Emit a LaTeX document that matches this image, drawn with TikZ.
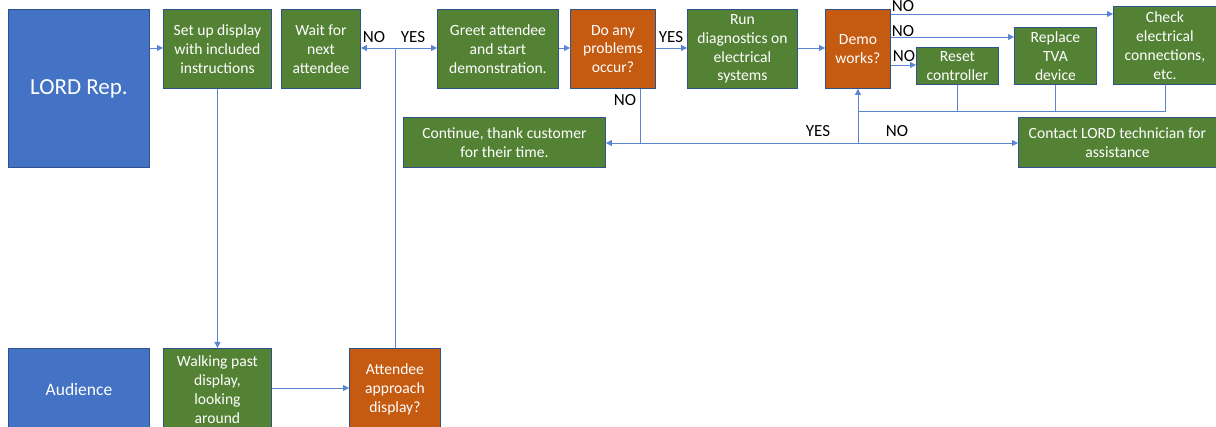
\documentclass[tikz,border=0pt]{standalone}
\usepackage{fontspec}
\setmainfont{Carlito}
\usetikzlibrary{arrows.meta}
\definecolor{bluefill}{HTML}{4472C4}
\definecolor{greenfill}{HTML}{548235}
\definecolor{orangefill}{HTML}{C55A11}
\definecolor{edgeblue}{HTML}{2F528F}
\definecolor{linkblue}{HTML}{5B85D0}
\tikzset{
  basebox/.style={draw=edgeblue, line width=0.9pt, anchor=north west, inner sep=2pt, align=center, text=white, font=\fontsize{15.6}{18.8}\selectfont},
  lanebox/.style={basebox, fill=bluefill},
  greenbox/.style={basebox, fill=greenfill},
  decbox/.style={basebox, fill=orangefill},
  link/.style={draw=linkblue, line width=0.8pt},
  arr/.style={link, -{Triangle[length=6pt,width=6pt]}},
  lbl/.style={font=\fontsize{17}{19}\selectfont, text=black, inner sep=0pt}
}
\begin{document}
\begin{tikzpicture}[x=1pt,y=-1pt]
\useasboundingbox (0,0) rectangle (1216,427);
\clip (0,0) rectangle (1216,427);
% lanes
\node[lanebox, minimum width=141pt, minimum height=158pt, font=\fontsize{23}{26}\selectfont] (lord) at (8,9) {LORD Rep.};
\node[lanebox, minimum width=141pt, minimum height=82pt, font=\fontsize{17.5}{20}\selectfont] (aud) at (8,348) {Audience};
% top row
\node[greenbox, minimum width=108pt, minimum height=79pt] (setup) at (163,9) {Set up display\\with included\\instructions};
\node[greenbox, minimum width=79pt, minimum height=79pt] (wait) at (281,9) {Wait for\\next\\attendee};
\node[greenbox, minimum width=121pt, minimum height=79pt] (greet) at (437,9) {Greet attendee\\and start\\demonstration.};
\node[decbox, minimum width=85pt, minimum height=79pt] (prob) at (570,9) {Do any\\problems\\occur?};
\node[greenbox, minimum width=110pt, minimum height=79pt] (diag) at (687,9) {Run\\diagnostics on\\electrical\\systems};
\node[decbox, minimum width=65pt, minimum height=79pt] (demo) at (825,9) {Demo\\works?};
\node[greenbox, minimum width=82pt, minimum height=37pt] (reset) at (916,47) {Reset\\controller};
\node[greenbox, minimum width=82pt, minimum height=57pt] (tva) at (1014,27) {Replace\\TVA\\device};
\node[greenbox, minimum width=103pt, minimum height=78pt] (check) at (1113,6) {Check\\electrical\\connections,\\etc.};
\node[greenbox, minimum width=202pt, minimum height=50pt] (cont) at (403,117) {Continue, thank customer\\for their time.};
\node[greenbox, minimum width=198pt, minimum height=50pt] (tech) at (1018,117) {Contact LORD technician for\\assistance};
% bottom row
\node[greenbox, minimum width=108pt, minimum height=82pt] (walk) at (163,348) {Walking past\\display,\\looking\\around};
\node[decbox, minimum width=91pt, minimum height=82pt] (appr) at (349,348) {Attendee\\approach\\display?};
% coordinates
\coordinate (j1) at (395,48);
\coordinate (j2) at (640,143);
\coordinate (j3) at (858,143);
\coordinate (j4) at (858,111);
% connectors
\draw[arr] (lord.east |- 0,48) -- (setup.west |- 0,48);
\draw[arr] (setup.south) -- (walk.north);
\draw[arr] (walk.east |- 0,388) -- (appr.west |- 0,388);
\draw[link] (appr.north -| j1) -- (j1);
\draw[arr] (j1) -- (wait.east |- j1);
\draw[arr] (j1) -- (greet.west |- j1);
\draw[arr] (greet.east |- 0,48) -- (prob.west |- 0,48);
\draw[arr] (prob.east |- 0,48) -- (diag.west |- 0,48);
\draw[arr] (diag.east |- 0,48) -- (demo.west |- 0,48);
\draw[link] (prob.south -| j2) -- (j2);
\draw[arr] (j3) -- (cont.east |- j3);
\draw[arr] (j3) -- (tech.west |- j3);
\draw[arr] (j3) -- (demo.south -| j3);
\draw[arr] (demo.east |- 0,14) -- (check.west |- 0,14);
\draw[arr] (demo.east |- 0,37) -- (tva.west |- 0,37);
\draw[arr] (demo.east |- 0,65) -- (reset.west |- 0,65);
\draw[link] (check.south) -- (check.south |- j4) -- (j4);
\draw[link] (tva.south) -- (tva.south |- j4);
\draw[link] (reset.south) -- (reset.south |- j4);
% labels
\node[lbl] (lno1) at (374,37) {NO};
\node[lbl] (lyes1) at (413,37) {YES};
\node[lbl] (lyes2) at (671,37) {YES};
\node[lbl] (lno2) at (625,100) {NO};
\node[lbl] (lyes3) at (818,131) {YES};
\node[lbl] (lno3) at (897,131) {NO};
\node[lbl] (lno4) at (903,6) {NO};
\node[lbl] (lno5) at (903,31) {NO};
\node[lbl] (lno6) at (904,56) {NO};
\end{tikzpicture}
\end{document}
